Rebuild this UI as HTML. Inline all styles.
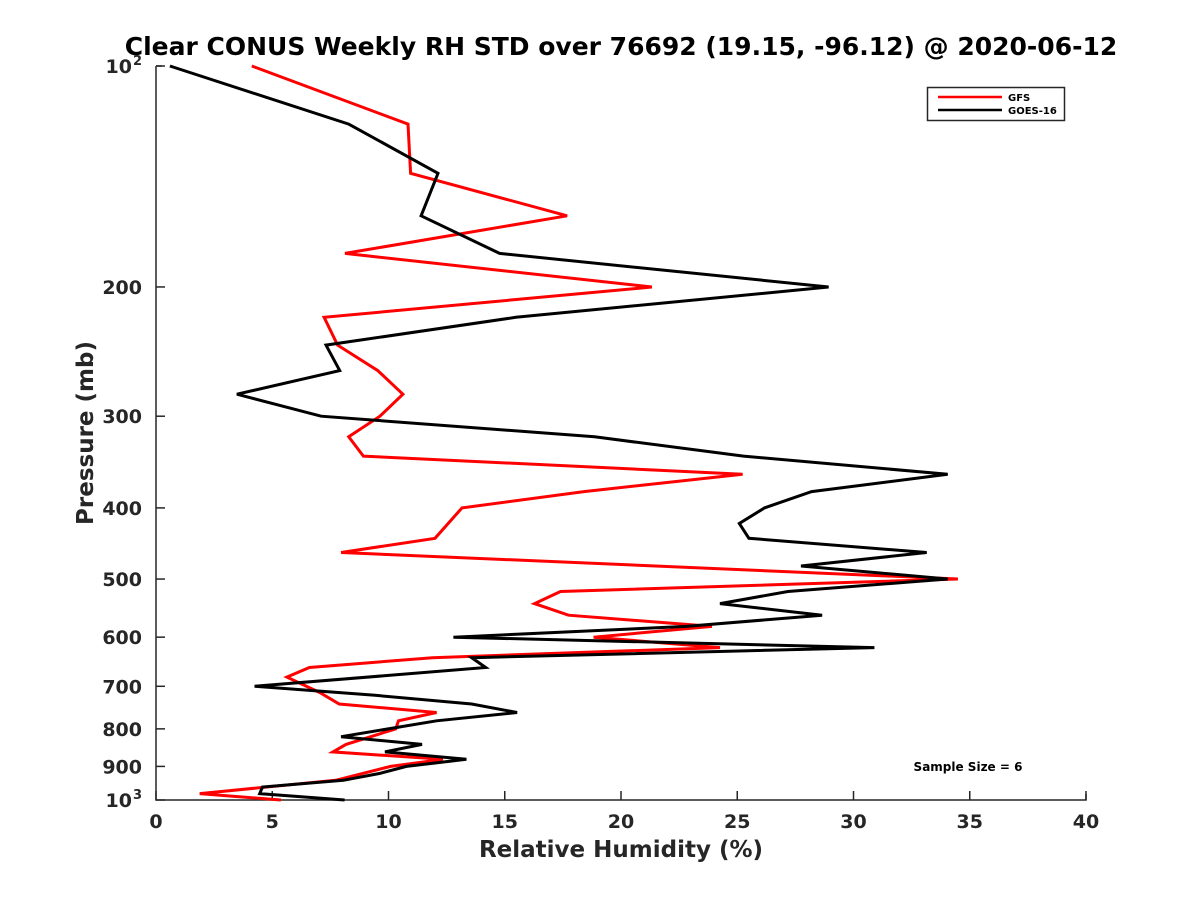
<!DOCTYPE html>
<html><head><meta charset="utf-8"><style>
body{margin:0;background:#fff}
svg text{font-family:"DejaVu Sans","Liberation Sans",sans-serif;font-weight:bold}
</style></head><body>
<svg id="chart" width="1200" height="900" viewBox="0 0 1200 900" xmlns="http://www.w3.org/2000/svg">
<rect width="1200" height="900" fill="#fff"/>
<text x="621" y="55" font-size="25" text-anchor="middle" fill="#000">Clear CONUS Weekly RH STD over 76692 (19.15, -96.12) @ 2020-06-12</text>
<g id="axes"></g>
<g id="series"></g>
<g>
<rect x="927.5" y="87.5" width="137" height="33" fill="#fff" stroke="#262626" stroke-width="1.5"/>
<line x1="938" y1="97" x2="1002" y2="97" stroke="#ff0000" stroke-width="2.5"/>
<text x="1008" y="101" font-size="10">GFS</text>
<line x1="938" y1="110" x2="1002" y2="110" stroke="#000" stroke-width="2.5"/>
<text x="1008" y="114" font-size="10">GOES-16</text>
</g>
<text x="968" y="771" font-size="12" text-anchor="middle">Sample Size = 6</text>
<text x="621" y="857" font-size="23" text-anchor="middle" fill="#262626">Relative Humidity (%)</text>
<text transform="translate(93,433) rotate(-90)" font-size="23" text-anchor="middle" fill="#262626">Pressure (mb)</text>
</svg>
<script>
const xTicks=[0,5,10,15,20,25,30,35,40];
const yTicks=[100,200,300,400,500,600,700,800,900,1000];
const gfsP=[100,120,140,160,180,200,220,240,260,280,300,320,340,360,380,400,440,460,500,520,540,560,580,600,620,640,660,680,714,740,760,780,800,840,860,880,900,940,980,1000];
const gfsV=[4.12,10.84,10.95,17.68,8.13,21.33,7.23,7.81,9.54,10.62,9.63,8.29,8.92,25.23,18.41,13.16,12.0,7.96,34.49,17.40,16.28,17.74,23.91,18.82,24.26,11.89,6.60,5.63,7.05,7.88,12.07,10.43,10.31,8.17,7.61,12.34,10.09,7.73,1.88,5.37];
const goesP=[100,120,140,160,180,200,220,240,260,280,300,320,340,360,380,400,420,440,460,480,500,520,540,560,580,600,620,640,660,700,720,740,760,780,820,840,860,880,900,920,940,960,980,1000];
const goesV=[0.60,8.29,12.13,11.40,14.78,28.93,15.48,7.31,7.90,3.48,7.10,18.86,25.27,34.05,28.20,26.17,25.09,25.50,33.15,27.74,34.05,27.18,24.26,28.65,22.80,12.79,30.90,13.58,14.18,4.24,9.42,13.58,15.53,12.07,7.96,11.44,9.85,13.35,10.77,9.63,8.06,4.58,4.46,8.11];
const X0=156,X1=1086,Y0=66,Y1=800;
const xs=v=>X0+(v-0)/(40-0)*(X1-X0);
const ys=p=>Y0+(Math.log10(p)-2)*(Y1-Y0);
const NS='http://www.w3.org/2000/svg';
function mk(t,a,parent){const e=document.createElementNS(NS,t);for(const k in a)e.setAttribute(k,a[k]);parent.appendChild(e);return e;}
const axes=document.getElementById('axes');
const ax=mk('path',{d:`M${X0} ${Y0}H${X0+6}M${X0} ${Y0}V${Y1}H${X1}V${Y1-6}`,fill:'none',stroke:'#262626','stroke-width':1.5},axes);


xTicks.forEach(t=>{
  const x=xs(t);
  const l=mk('line',{x1:x,y1:Y1,x2:x,y2:Y1-9,stroke:'#262626','stroke-width':1.5},axes);
  
  
  const tx=mk('text',{x:x,y:Y1+28,'font-size':19,'text-anchor':'middle',fill:'#262626'},axes);
  tx.textContent=t;
  
  
});
yTicks.forEach(t=>{
  const y=ys(t);
  const l=mk('line',{x1:X0,y1:y,x2:X0+9,y2:y,stroke:'#262626','stroke-width':1.5},axes);
  
  
  const tx=mk('text',{x:X0-14,y:y+7,'font-size':19,'text-anchor':'end',fill:'#262626'},axes);
  if(t===100||t===1000){
    tx.setAttribute('x',X0-24);
    tx.textContent='10';
    const s=mk('text',{x:X0-23,y:y-1,'font-size':13,fill:'#262626'},axes);
    s.textContent=t===100?'2':'3';
    
    
  } else tx.textContent=t;
  
  
});
const sg=document.getElementById('series');
function line(P,V,color,name){
  const d=P.map((p,i)=>(i?'L':'M')+xs(V[i]).toFixed(1)+' '+ys(p).toFixed(1)).join('');
  const e=mk('path',{d:d,fill:'none',stroke:color,'stroke-width':3,'stroke-linejoin':'miter'},sg);
  
  
}
line(gfsP,gfsV,'#ff0000','gfs-line');
line(goesP,goesV,'#000','goes16-line');
</script>
</body></html>
